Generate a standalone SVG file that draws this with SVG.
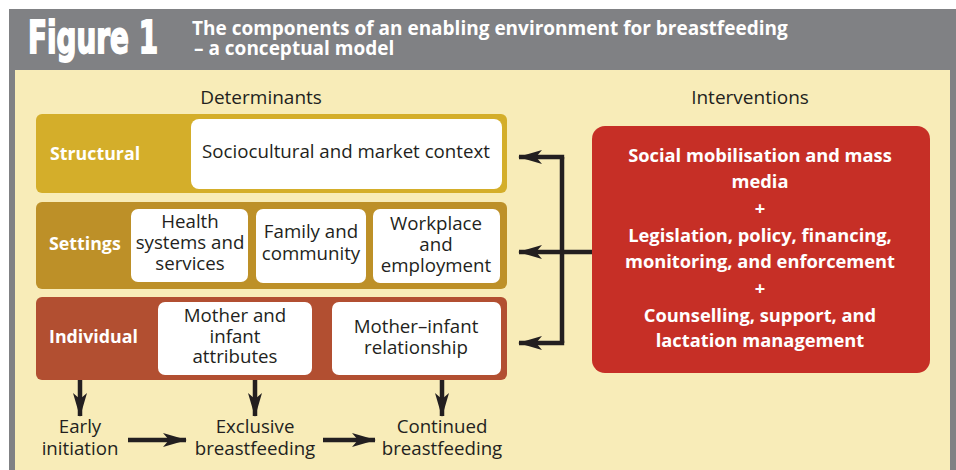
<svg xmlns="http://www.w3.org/2000/svg" width="956" height="470" viewBox="0 0 956 470">
<style>
.hdr{font-family:"Open Sans","DejaVu Sans",sans-serif;font-weight:bold;fill:#fff;font-size:19px}
.big{font-family:"Liberation Sans Narrow","DejaVu Sans Condensed","Liberation Sans",sans-serif;font-weight:bold;fill:#fff;stroke:#fff;stroke-width:1.8}
.lbl{font-family:"Open Sans","DejaVu Sans",sans-serif;font-size:18.7px;fill:#231f20;text-anchor:middle}
.head{font-family:"Open Sans","DejaVu Sans",sans-serif;font-size:19px;fill:#231f20;text-anchor:middle}
.band{font-family:"Open Sans","DejaVu Sans",sans-serif;font-size:17.8px;font-weight:bold;fill:#fff}
.int{font-family:"Open Sans","DejaVu Sans",sans-serif;font-size:18.3px;font-weight:bold;fill:#fff;text-anchor:middle}
.box{fill:#fff}
.ln{stroke:#231f20;stroke-width:4.5;fill:none}
</style>
<defs>
<marker id="ah" markerUnits="userSpaceOnUse" markerWidth="24" markerHeight="14" viewBox="0 0 24 14" refX="23" refY="7" orient="auto">
<path d="M0,0 L24,7 L0,14 L6,7 z" fill="#231f20"/>
</marker>
</defs>
<rect x="0" y="0" width="956" height="470" fill="#fff"/>
<rect x="9" y="9" width="947" height="461" fill="#808184"/>
<rect x="15" y="70" width="935" height="400" fill="#f8ecb8"/>
<g id="header">
<text class="big" x="28" y="53" font-size="45" textLength="130" lengthAdjust="spacingAndGlyphs">Figure 1</text>
<text class="hdr" x="192" y="35">The components of an enabling environment for breastfeeding</text>
<text class="hdr" x="194" y="55">– a conceptual model</text>
</g>
<text class="head" x="261" y="104">Determinants</text>
<text class="head" x="750" y="104">Interventions</text>
<g id="structural">
<rect x="36" y="114" width="471" height="79" rx="6" fill="#d4ae2a"/>
<text class="band" x="50" y="160">Structural</text>
<rect class="box" x="191" y="119" width="311" height="70" rx="8"/>
<text class="lbl" x="346" y="158">Sociocultural and market context</text>
</g>
<g id="settings">
<rect x="36" y="202" width="471" height="87" rx="6" fill="#bd9028"/>
<text class="band" x="49" y="250">Settings</text>
<rect class="box" x="131" y="209" width="117" height="73" rx="7"/>
<text class="lbl" x="190" y="228">Health</text>
<text class="lbl" x="190" y="249">systems and</text>
<text class="lbl" x="190" y="270">services</text>
<rect class="box" x="256" y="209" width="110" height="74" rx="7"/>
<text class="lbl" x="311" y="238">Family and</text>
<text class="lbl" x="311" y="260">community</text>
<rect class="box" x="373" y="209" width="127" height="74" rx="7"/>
<text class="lbl" x="436" y="230">Workplace</text>
<text class="lbl" x="436" y="251">and</text>
<text class="lbl" x="436" y="272">employment</text>
</g>
<g id="individual">
<rect x="36" y="297" width="471" height="83" rx="6" fill="#b24f31"/>
<text class="band" x="49" y="343">Individual</text>
<rect class="box" x="158" y="302" width="154" height="73" rx="7"/>
<text class="lbl" x="235" y="322">Mother and</text>
<text class="lbl" x="235" y="343">infant</text>
<text class="lbl" x="235" y="363">attributes</text>
<rect class="box" x="332" y="302" width="169" height="73" rx="7"/>
<text class="lbl" x="416" y="333">Mother–infant</text>
<text class="lbl" x="416" y="354">relationship</text>
</g>
<g id="interventions">
<rect x="592" y="126" width="338" height="247" rx="13" fill="#c62f26"/>
<text class="int" x="760" y="162">Social mobilisation and mass</text>
<text class="int" x="760" y="188">media</text>
<text class="int" x="760" y="215">+</text>
<text class="int" x="760" y="242">Legislation, policy, financing,</text>
<text class="int" x="760" y="268">monitoring, and enforcement</text>
<text class="int" x="760" y="295">+</text>
<text class="int" x="760" y="322">Counselling, support, and</text>
<text class="int" x="760" y="347">lactation management</text>
</g>
<g id="outcomes">
<text class="lbl" x="80" y="433">Early</text>
<text class="lbl" x="80" y="455">initiation</text>
<text class="lbl" x="255" y="433">Exclusive</text>
<text class="lbl" x="255" y="455">breastfeeding</text>
<text class="lbl" x="442" y="433">Continued</text>
<text class="lbl" x="442" y="455">breastfeeding</text>
</g>
<g id="connectors">
<path class="ln" d="M562,157 L562,343"/>
<path class="ln" d="M564.2,157 L519,157" marker-end="url(#ah)"/>
<path class="ln" d="M592,252 L519,252" marker-end="url(#ah)"/>
<path class="ln" d="M564.2,343 L519,343" marker-end="url(#ah)"/>
<path class="ln" d="M80,380 L80,416" marker-end="url(#ah)"/>
<path class="ln" d="M255,380 L255,416" marker-end="url(#ah)"/>
<path class="ln" d="M442,380 L442,416" marker-end="url(#ah)"/>
<path class="ln" d="M128,440 L186,440" marker-end="url(#ah)"/>
<path class="ln" d="M323,440 L375,440" marker-end="url(#ah)"/>
</g>
</svg>
